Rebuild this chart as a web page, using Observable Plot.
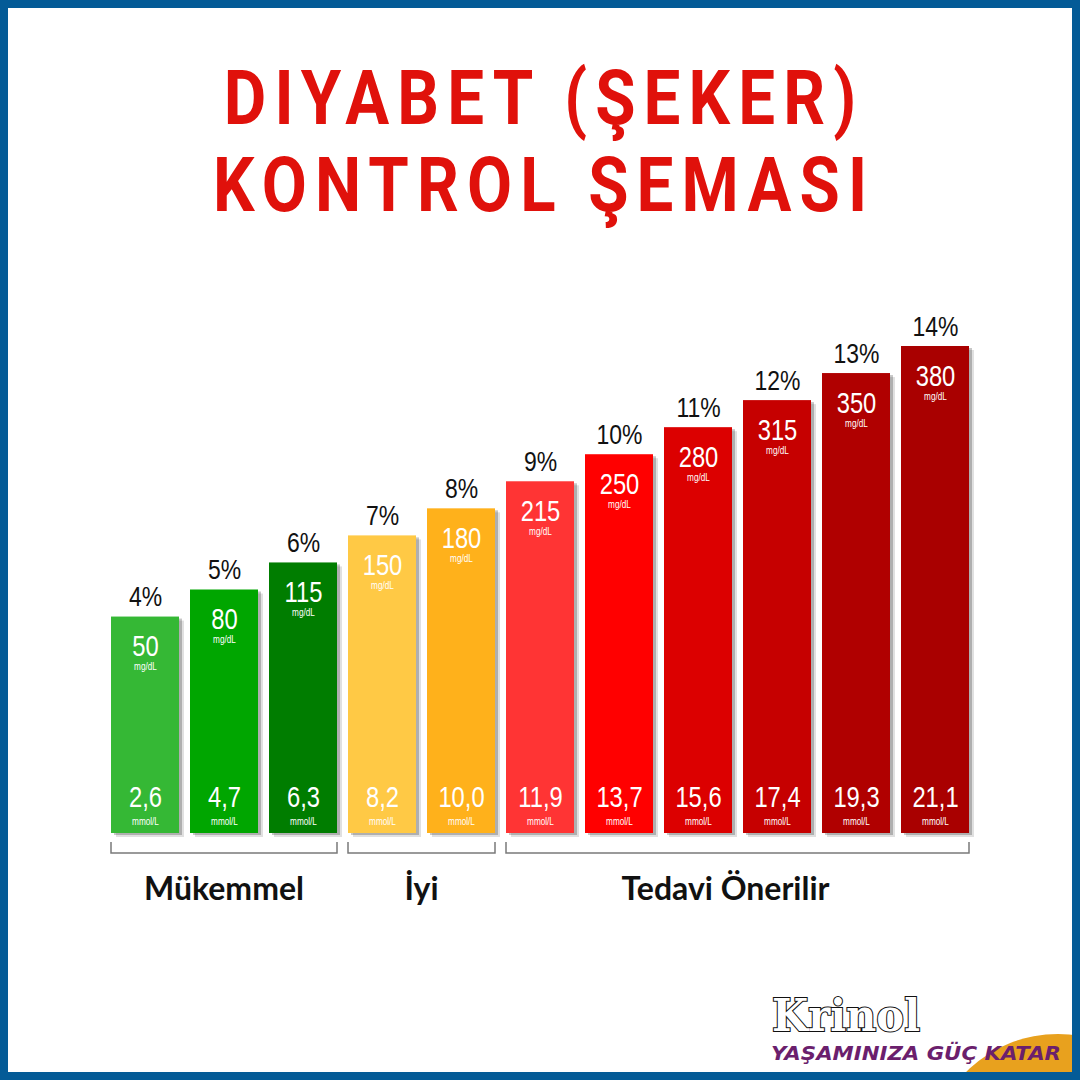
<!DOCTYPE html>
<html>
<head>
<meta charset="utf-8">
<script src="https://cdn.jsdelivr.net/npm/d3@7"></script>
<script src="https://cdn.jsdelivr.net/npm/@observablehq/plot@0.6"></script>
<style>
  html, body { margin: 0; padding: 0; background: #fff; }
  #page { position: relative; width: 1080px; height: 1080px; overflow: hidden; background: #fff; }
  #frame { position: absolute; left: 0; top: 0; width: 1080px; height: 1080px; box-sizing: border-box; border: 8px solid #045b97; pointer-events: none; z-index: 5; }
  .title { position: absolute; left: 0; width: 1080px; text-align: center; color: #e0110b;
           font-family: Roboto, "DejaVu Sans", sans-serif; font-weight: 700; font-size: 76px; line-height: 76px;
           letter-spacing: 9.5px; text-indent: 9.5px; transform: scaleX(0.86); transform-origin: 540px 0; white-space: nowrap; }
  #chart { position: absolute; left: 0; top: 280px; }
  #logo { position: absolute; left: 0; top: 0; }
</style>
</head>
<body>
<div id="page">
  <div class="title" style="top:60px">DIYABET (ŞEKER)</div>
  <div class="title" style="top:147px">KONTROL ŞEMASI</div>
  <div id="chart"></div>
  <svg id="logo" width="1080" height="1080">
    <ellipse cx="1058" cy="1152" rx="125" ry="118" fill="#e8a11e"></ellipse>
    <text x="772" y="1031" font-family="'DejaVu Serif', serif" font-weight="bold" font-size="44" fill="#fff" stroke="#111" stroke-width="2.2" paint-order="stroke" textLength="148" lengthAdjust="spacingAndGlyphs">Krinol</text>
    <text x="771" y="1060" font-family="'DejaVu Sans', sans-serif" font-style="italic" font-weight="bold" font-size="20" fill="#6b1f6d" textLength="290" lengthAdjust="spacingAndGlyphs">YAŞAMINIZA GÜÇ KATAR</text>
  </svg>
  <div id="frame"></div>
</div>
<script>
// ---- data ----
const percents = [4, 5, 6, 7, 8, 9, 10, 11, 12, 13, 14];
const mgdl = [50, 80, 115, 150, 180, 215, 250, 280, 315, 350, 380];
const mmol = ["2,6", "4,7", "6,3", "8,2", "10,0", "11,9", "13,7", "15,6", "17,4", "19,3", "21,1"];
const barColors = ["#35b835", "#00a600", "#007d00", "#ffc945", "#ffb11b", "#ff3434", "#ff0000", "#dc0000", "#c60000", "#b00000", "#a90000"];
const groupOf = ["Mükemmel", "Mükemmel", "Mükemmel", "İyi", "İyi",
  "Tedavi Önerilir", "Tedavi Önerilir", "Tedavi Önerilir", "Tedavi Önerilir", "Tedavi Önerilir", "Tedavi Önerilir"];
const groupNames = ["Mükemmel", "İyi", "Tedavi Önerilir"];
const baseValue = -4; // bar baseline on the percent scale

const data = percents.map((p, i) => ({
  key: p + "%", pct: p, mg: mgdl[i], mmol: mmol[i], color: barColors[i], group: groupOf[i]
}));

const narrow = "'Liberation Sans', Arial, sans-serif";

const plot = Plot.plot({
  width: 1080,
  height: 640,
  marginTop: 66,
  marginBottom: 87,
  marginLeft: 110,
  marginRight: 110,
  x: { domain: data.map(d => d.key), paddingInner: 0.1414, paddingOuter: 0, axis: null },
  y: { domain: [baseValue, 14], axis: null },
  style: { background: "transparent", overflow: "visible" },
  marks: [
    // shadows
    Plot.barY(data, { x: "key", y1: baseValue, y2: "pct", fill: "#000", fillOpacity: 0.12, dx: 5, dy: 4 }),
    Plot.barY(data, { x: "key", y1: baseValue, y2: "pct", fill: "#000", fillOpacity: 0.22, dx: 3, dy: 2 }),
    // bars
    Plot.barY(data, { x: "key", y1: baseValue, y2: "pct", fill: d => d.color }),
    // percent labels
    Plot.text(data, { x: "key", y: "pct", text: d => d.pct + "%", dy: -11, lineAnchor: "bottom",
      fontSize: 28, fill: "#111", fontFamily: narrow }),
    // mg/dL values
    Plot.text(data, { x: "key", y: "pct", text: d => String(d.mg), dy: 39, lineAnchor: "bottom",
      fontSize: 29, fill: "#fff", fontFamily: narrow }),
    Plot.text(data, { x: "key", y: "pct", text: () => "mg/dL", dy: 53, lineAnchor: "bottom",
      fontSize: 10, fill: "#fff", fontFamily: narrow }),
    // mmol/L values
    Plot.text(data, { x: "key", y: baseValue, text: "mmol", dy: -27, lineAnchor: "bottom",
      fontSize: 29, fill: "#fff", fontFamily: narrow }),
    Plot.text(data, { x: "key", y: baseValue, text: () => "mmol/L", dy: -9, lineAnchor: "bottom",
      fontSize: 10, fill: "#fff", fontFamily: narrow })
  ]
});
document.getElementById("chart").appendChild(plot);

// condense the Arial-like labels horizontally (Arial Narrow look)
d3.select(plot).selectAll("text").each(function () {
  const t = this.getAttribute("transform");
  if (t && t.indexOf("translate") >= 0) {
    this.setAttribute("transform", t + " scale(0.82,1)");
  } else {
    const x = +this.getAttribute("x") || 0;
    this.setAttribute("transform", `translate(${x},0) scale(0.82,1) translate(${-x},0)`);
  }
});

// brackets and group labels placed with the plot's own x scale
const xs = plot.scale("x");
const bw = xs.bandwidth;
const svg = d3.select(plot);
const y0 = plot.scale("y").apply(baseValue);
const g = svg.append("g");
groupNames.forEach(name => {
  const members = data.filter(d => d.group === name);
  const xa = xs.apply(members[0].key);
  const xb = xs.apply(members[members.length - 1].key) + bw;
  g.append("path")
    .attr("d", `M${xa},${y0 + 9}V${y0 + 20}H${xb}V${y0 + 9}`)
    .attr("fill", "none").attr("stroke", "#7a7a7a").attr("stroke-width", 1.5);
  g.append("text")
    .attr("x", (xa + xb) / 2 + (name === "Tedavi Önerilir" ? -12 : 0))
    .attr("y", y0 + 67)
    .attr("text-anchor", "middle")
    .attr("font-family", "Lato, 'Open Sans', sans-serif")
    .attr("font-weight", 700)
    .attr("font-size", 32)
    .attr("fill", "#111")
    .text(name);
});
</script>
</body>
</html>
